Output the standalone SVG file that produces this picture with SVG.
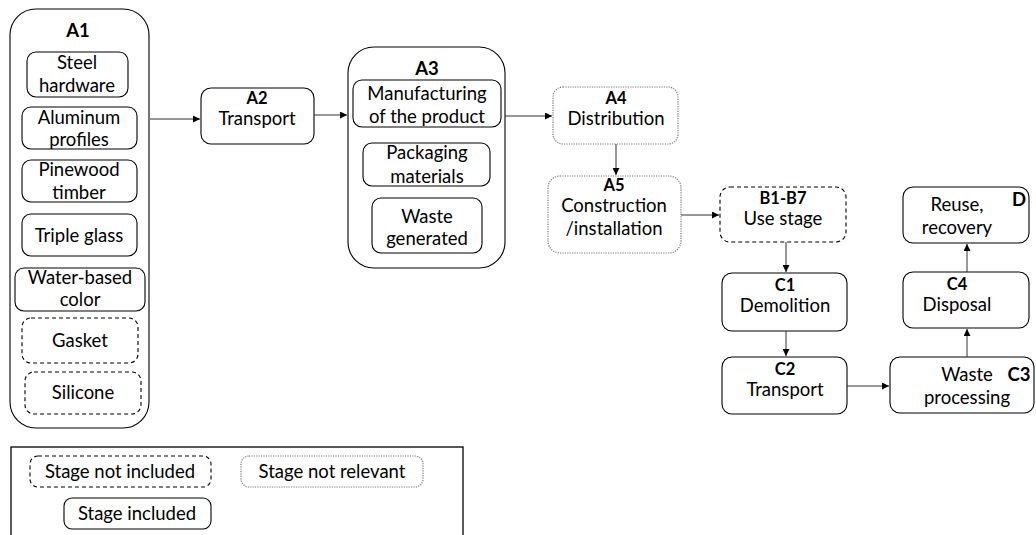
<svg xmlns="http://www.w3.org/2000/svg" width="1036" height="535" viewBox="0 0 1036 535">
<defs>
<marker id="arr" viewBox="0 0 10 10" refX="10" refY="5" markerWidth="7" markerHeight="7" orient="auto" markerUnits="userSpaceOnUse">
<path d="M0,0 L10,5 L0,10 z" fill="#000"/>
</marker>
<style>
text{font-family:Lato,"Liberation Sans",sans-serif;font-size:18.5px;fill:#000;text-anchor:middle}
.b{font-weight:bold}
.s{font-size:16.5px}
.inc{fill:#fff;stroke:#000;stroke-width:1.1}
.dash{fill:#fff;stroke:#000;stroke-width:1.1;stroke-dasharray:4 3}
.dot{fill:#fff;stroke:#777;stroke-width:1.2;stroke-dasharray:1.2 1.2}
.con line{stroke:#333;stroke-width:1;marker-end:url(#arr)}
</style>
</defs>
<rect width="1036" height="535" fill="#fff"/>

<g id="A1">
<rect class="inc" x="10" y="9" width="139" height="419" rx="26"/>
<text class="b" x="78" y="37">A1</text>
<rect class="inc" x="27" y="52" width="101" height="45" rx="9"/>
<text x="77" y="69">Steel</text><text x="77" y="92">hardware</text>
<rect class="inc" x="22" y="107" width="115" height="42" rx="9"/>
<text x="79" y="124">Aluminum</text><text x="79" y="146">profiles</text>
<rect class="inc" x="22" y="160" width="115" height="42" rx="9"/>
<text x="79" y="176">Pinewood</text><text x="79" y="199">timber</text>
<rect class="inc" x="22" y="214" width="115" height="42" rx="9"/>
<text x="79" y="242">Triple glass</text>
<rect class="inc" x="15" y="268" width="130" height="43" rx="9"/>
<text x="80" y="284">Water-based</text><text x="80" y="306">color</text>
<rect class="dash" x="22" y="318" width="116" height="45" rx="9"/>
<text x="80" y="347">Gasket</text>
<rect class="dash" x="25" y="372" width="116" height="42" rx="9"/>
<text x="83" y="399">Silicone</text>
</g>

<g id="A2">
<rect class="inc" x="201" y="88" width="113" height="56" rx="10"/>
<text class="b s" x="257" y="104">A2</text>
<text x="257" y="125">Transport</text>
</g>

<g id="A3">
<rect class="inc" x="348" y="47" width="157" height="221" rx="26"/>
<text class="b" x="427" y="75">A3</text>
<rect class="inc" x="353" y="80" width="148" height="47" rx="9"/>
<text x="427" y="100">Manufacturing</text><text x="427" y="123">of the product</text>
<rect class="inc" x="363" y="143" width="127" height="43" rx="9"/>
<text x="427" y="159">Packaging</text><text x="427" y="183">materials</text>
<rect class="inc" x="372" y="198" width="110" height="55" rx="9"/>
<text x="427" y="223">Waste</text><text x="427" y="245">generated</text>
</g>

<g id="A4">
<rect class="dot" x="553" y="87" width="125" height="57" rx="10"/>
<text class="b s" x="616" y="104">A4</text>
<text x="616" y="125">Distribution</text>
</g>

<g id="A5">
<rect class="dot" x="548" y="176" width="133" height="77" rx="12"/>
<text class="b s" x="614" y="191">A5</text>
<text x="614" y="212">Construction</text>
<text x="614" y="235">/installation</text>
</g>

<g id="B">
<rect class="dash" x="720" y="187" width="126" height="55" rx="10"/>
<text class="b s" x="783" y="204">B1-B7</text>
<text x="783" y="225">Use stage</text>
</g>

<g id="C1">
<rect class="inc" x="722" y="273" width="125" height="58" rx="10"/>
<text class="b s" x="785" y="291">C1</text>
<text x="785" y="312">Demolition</text>
</g>

<g id="C2">
<rect class="inc" x="722" y="357" width="125" height="57" rx="10"/>
<text class="b s" x="785" y="375">C2</text>
<text x="785" y="396">Transport</text>
</g>

<g id="C3">
<rect class="inc" x="890" y="357" width="144" height="56" rx="10"/>
<text x="967" y="381">Waste</text>
<text x="967" y="404">processing</text>
<text class="b" x="1019" y="381">C3</text>
</g>

<g id="C4">
<rect class="inc" x="903" y="272" width="126" height="56" rx="10"/>
<text class="b s" x="957" y="290">C4</text>
<text x="957" y="311">Disposal</text>
</g>

<g id="D">
<rect class="inc" x="903" y="187" width="126" height="56" rx="10"/>
<text x="957" y="211">Reuse,</text>
<text x="957" y="234">recovery</text>
<text class="b" x="1019" y="206">D</text>
</g>

<g id="connectors" class="con">
<line x1="150" y1="119" x2="200" y2="119"/>
<line x1="314" y1="115" x2="347" y2="115"/>
<line x1="505" y1="116" x2="552" y2="116"/>
<line x1="616" y1="144" x2="616" y2="175"/>
<line x1="681" y1="215" x2="719" y2="215"/>
<line x1="786" y1="242" x2="786" y2="272"/>
<line x1="786" y1="331" x2="786" y2="356"/>
<line x1="847" y1="386" x2="889" y2="386"/>
<line x1="967" y1="357" x2="967" y2="329"/>
<line x1="967" y1="272" x2="967" y2="244"/>
</g>

<g id="legend">
<rect x="11" y="447" width="452" height="100" fill="#fff" stroke="#000" stroke-width="1.3"/>
<rect class="dash" x="30" y="456" width="181" height="31" rx="8"/>
<text x="120" y="478">Stage not included</text>
<rect class="dot" x="241" y="456" width="182" height="31" rx="8"/>
<text x="332" y="478">Stage not relevant</text>
<rect class="inc" x="64" y="498" width="147" height="31" rx="8"/>
<text x="137" y="520">Stage included</text>
</g>
</svg>
